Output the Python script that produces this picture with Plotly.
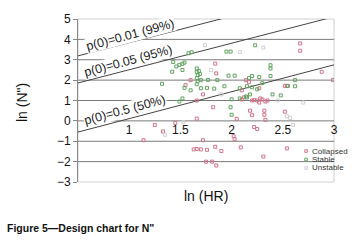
import plotly.graph_objects as go

# ---- data ----
collapsed_x = [1.14, 1.25, 1.33, 1.45, 1.66, 1.72, 1.63, 1.66, 1.70, 1.76, 1.84, 1.90, 1.75, 1.81, 1.85,
               2.03, 2.09, 2.31, 2.54, 2.02, 2.22, 2.25, 2.18, 2.20, 2.32, 2.32, 2.33, 2.52, 1.82, 1.84,
               1.85, 2.67, 2.67, 2.88, 2.99, 2.14, 2.54, 2.52, 2.10, 2.20, 2.22, 2.25, 2.30, 2.27, 2.10,
               1.72, 1.66, 2.05, 2.12, 2.28, 2.35, 1.55, 1.60, 2.27, 2.33, 2.17]
collapsed_y = [-0.95, -0.20, -0.52, -0.10, 0.11, -0.95, -1.40, -1.38, -1.40, -1.42, -1.27, -1.48, -2.00, -2.00, -2.19,
               -0.90, -1.30, -1.75, -1.35, -0.75, -0.30, -0.40, 0.50, 0.28, 0.50, 0.30, 0.05, 0.45, 0.67, 2.81,
               2.33, 3.80, 3.44, 2.41, 2.01, 2.00, 1.71, 1.72, 1.05, 1.00, 1.02, 1.00, 1.05, 1.60, 1.50,
               1.30, 1.00, 0.10, 1.15, 1.10, 1.00, 1.75, 2.00, 0.90, 0.95, 1.90]

stable_x = [1.58, 1.61, 1.95, 1.99, 1.43, 1.46, 1.49, 1.52, 1.54, 1.42, 1.52, 1.66, 1.66, 1.67, 1.66,
            1.67, 1.66, 1.69, 1.70, 1.68, 1.86, 1.97, 2.03, 1.77, 1.32, 1.54, 1.70, 1.76, 1.83, 1.52,
            1.49, 1.93, 1.99, 2.00, 2.00, 2.23, 2.38, 2.38, 2.20, 2.17, 2.27, 2.30, 2.38, 2.62, 2.62,
            2.55, 2.08, 2.15, 2.20, 2.25, 2.08, 2.15, 2.40, 2.48, 2.18, 1.60, 2.14]
stable_y = [3.32, 3.37, 3.40, 3.40, 2.89, 2.67, 2.75, 2.80, 2.86, 2.41, 2.50, 2.57, 2.40, 2.25, 2.10,
            1.95, 1.80, 2.30, 2.00, 2.45, 2.00, 2.22, 2.22, 2.01, 1.82, 1.62, 1.60, 1.62, 1.58, 1.10,
            0.95, 1.70, 0.67, 0.30, 1.06, 3.71, 2.73, 2.57, 2.20, 2.10, 2.15, 1.85, 2.20, 2.00, 1.70,
            1.72, 1.60, 1.70, 1.65, 1.55, 1.10, 1.15, 1.30, 1.25, 1.30, 1.50, 1.20]

unstable_x = [1.74, 2.08, 2.31, 1.53, 1.35, 1.90, 2.57, 2.54, 2.70, 1.80, 2.45, 1.20, 2.60]
unstable_y = [3.71, 3.37, 3.60, -0.05, -0.68, 1.30, 0.15, 0.22, 0.90, 2.50, 1.00, 0.90, -0.20]

# probability lines: y = a + b*x
line_x = [0.5, 3.0]
line_a = [2.54, 1.21, -1.21]
line_b = [1.30, 1.30, 1.32]
line_labels = ["p(0)=0.01 (99%)", "p(0)=0.05 (95%)", "p(0)=0.5 (50%)"]
label_pos = [(1.01, 4.2), (0.99, 2.92), (0.96, 0.54)]

x_ticks = [1, 1.5, 2, 2.5, 3]
y_ticks = [-3, -2, -1, 0, 1, 2, 3, 4, 5]
grid_y = [-2, -1, 0, 1, 2, 3, 4]

series = [("Collapsed", collapsed_x, collapsed_y, "#d2748a"),
          ("Stable", stable_x, stable_y, "#62a462"),
          ("Unstable", unstable_x, unstable_y, "#cfcfcf")]

FONT = "Liberation Sans, Arial, sans-serif"
fig = go.Figure()

shapes = []
for gy in grid_y:
    shapes.append(dict(type="line", xref="x", yref="y", x0=0.5, x1=3, y0=gy, y1=gy,
                       line=dict(color="#7a7a7a", width=1), layer="below"))
shapes.append(dict(type="rect", xref="paper", yref="paper", x0=0, x1=1, y0=0, y1=1,
                   line=dict(color="#d0d0d0", width=1), layer="below"))

for a, b in zip(line_a, line_b):
    ys = [a + b * xx for xx in line_x]
    fig.add_trace(go.Scatter(x=line_x, y=ys, mode="lines", line=dict(color="#444", width=1),
                             showlegend=False, hoverinfo="skip", cliponaxis=True))

for name, xs, ys, col in series:
    fig.add_trace(go.Scatter(x=xs, y=ys, mode="markers", name=name, showlegend=False,
                             marker=dict(symbol="square-open", size=3, color=col,
                                         line=dict(width=1, color=col))))

annotations = []
for txt, (lx, ly) in zip(line_labels, label_pos):
    annotations.append(dict(x=lx, y=ly, xref="x", yref="y", text=txt, showarrow=False,
                            textangle=-15, bgcolor="white", borderpad=0,
                            font=dict(family=FONT, size=12.5, color="#222")))

# manual legend
leg_y = [0.19, 0.138, 0.086]
for (name, xs, ys, col), ly in zip(series, leg_y):
    shapes.append(dict(type="rect", xref="paper", yref="paper",
                       x0=0.886, x1=0.896, y0=ly - 0.008, y1=ly + 0.008,
                       line=dict(color=col, width=1)))
    annotations.append(dict(x=0.905, y=ly, xref="paper", yref="paper", text=name,
                            showarrow=False, xanchor="left", yanchor="middle",
                            font=dict(family=FONT, size=8, color="#333")))

annotations.append(dict(x=0.50, y=-0.085, xref="paper", yref="paper", text="ln (HR)",
                        showarrow=False, xanchor="center", yanchor="middle",
                        font=dict(family=FONT, size=14, color="#111")))
annotations.append(dict(x=-0.219, y=0.49, xref="paper", yref="paper", text="ln (N\")",
                        showarrow=False, textangle=-90, xanchor="center", yanchor="middle",
                        font=dict(family=FONT, size=14, color="#111")))
annotations.append(dict(x=-0.285, y=-0.28, xref="paper", yref="paper",
                        text="<b>Figure 5\u2014Design chart for N\"</b>",
                        showarrow=False, xanchor="left", yanchor="middle",
                        font=dict(family=FONT, size=10.5, color="#111")))

fig.update_layout(
    width=359, height=243,
    margin=dict(l=78, r=25, t=14, b=61),
    paper_bgcolor="white", plot_bgcolor="white",
    shapes=shapes, annotations=annotations, showlegend=False,
    xaxis=dict(range=[0.5, 3], anchor="free", position=0.375, tickvals=x_ticks,
               showgrid=False, zeroline=False, showline=False, ticks="",
               tickfont=dict(family=FONT, size=12, color="#111")),
    yaxis=dict(range=[-3, 5], tickvals=y_ticks, showgrid=False, zeroline=False,
               showline=True, linecolor="#888", linewidth=1, ticks="outside", ticklen=4,
               tickcolor="#888", tickfont=dict(family=FONT, size=12, color="#111")),
)

fig.write_html("out.html", config={"displayModeBar": False},
               post_script="document.body.style.margin='0';")
